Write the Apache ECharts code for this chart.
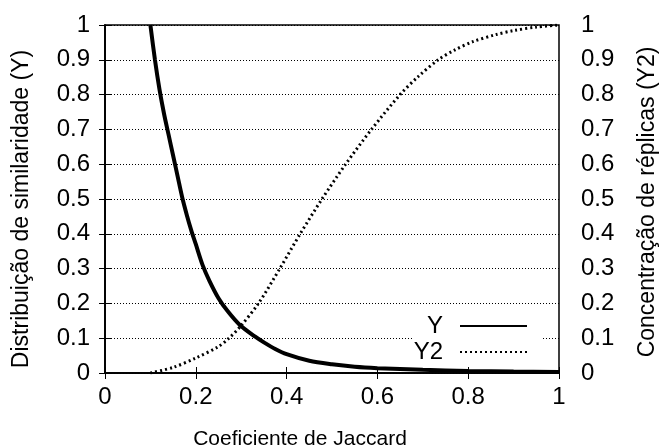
<!DOCTYPE html>
<html>
<head>
<meta charset="utf-8">
<script src="https://cdn.jsdelivr.net/npm/echarts@6/dist/echarts.min.js"></script>
<style>html,body{margin:0;padding:0;background:#fff}#c{width:662px;height:448px}</style>
</head>
<body>
<div id="c"></div>
<script>
const yX = [0.1, 0.11, 0.12, 0.13, 0.14, 0.15, 0.16, 0.17, 0.18, 0.19, 0.2, 0.215, 0.23, 0.25, 0.27, 0.297, 0.33, 0.35, 0.375, 0.4, 0.45, 0.5, 0.55, 0.6, 0.7, 0.8, 0.9, 1.0];
const yVals = [1.0, 0.9, 0.815, 0.745, 0.685, 0.625, 0.565, 0.505, 0.455, 0.41, 0.37, 0.31, 0.265, 0.215, 0.178, 0.138, 0.105, 0.088, 0.069, 0.054, 0.035, 0.025, 0.018, 0.014, 0.009, 0.006, 0.004, 0.003];
const y2X = [0.1, 0.15, 0.2, 0.25, 0.273, 0.297, 0.338, 0.385, 0.43, 0.478, 0.53, 0.587, 0.65, 0.69, 0.734, 0.77, 0.81, 0.86, 0.9, 0.95, 1.0];
const y2Vals = [0.0, 0.016, 0.043, 0.076, 0.1, 0.132, 0.2, 0.3, 0.4, 0.5, 0.6, 0.7, 0.8, 0.852, 0.9, 0.928, 0.952, 0.972, 0.984, 0.994, 1.0];
const seriesNames = ['Y', 'Y2'];
const xTitle = 'Coeficiente de Jaccard';
const yTitle = 'Distribuição de similaridade (Y)';
const y2Title = 'Concentração de réplicas (Y2)';

const FONT = "'Liberation Sans', Arial, Helvetica, sans-serif";
const pairs = (xs, ys) => xs.map((x, i) => [x, ys[i]]);

const chart = echarts.init(document.getElementById('c'), null, {renderer: 'canvas'});
const tickStyle = {color: '#000', fontSize: 24, fontFamily: FONT};
const fmt = v => String(+v.toFixed(1));
chart.setOption({
  animation: false,
  backgroundColor: '#fff',
  grid: {left: 105, right: 103, top: 25, bottom: 75, show: true, borderColor: '#000', borderWidth: 1.5, containLabel: false, outerBoundsMode: 'none'},
  xAxis: [{
    type: 'value', min: 0, max: 1, interval: 0.2, position: 'bottom',
    name: xTitle, nameLocation: 'middle', nameGap: 56,
    nameTextStyle: {color: '#000', fontSize: 21, fontFamily: FONT, padding: [0, 64, 0, 0]},
    axisLine: {show: true, lineStyle: {color: '#000', width: 1.5}},
    axisTick: {show: true, inside: true, length: 6, lineStyle: {color: '#000'}},
    axisLabel: Object.assign({margin: 12, formatter: fmt}, tickStyle),
    splitLine: {show: false}
  }, {
    type: 'value', min: 0, max: 1, interval: 0.2, position: 'top',
    axisLine: {show: true, lineStyle: {color: '#000', width: 1.5}},
    axisTick: {show: true, inside: true, length: 6, lineStyle: {color: '#000'}},
    axisLabel: {show: false}, splitLine: {show: false}
  }],
  yAxis: [{
    type: 'value', min: 0, max: 1, interval: 0.1, position: 'left',
    name: yTitle, nameLocation: 'middle', nameGap: 72, nameRotate: 90,
    nameTextStyle: {color: '#000', fontSize: 23, fontFamily: FONT, padding: [0, 20, 0, 0]},
    axisLine: {show: true, lineStyle: {color: '#000', width: 1.5}},
    axisTick: {show: true, inside: true, length: 6, lineStyle: {color: '#000'}},
    axisLabel: Object.assign({margin: 15, formatter: fmt}, tickStyle),
    splitLine: {show: true, lineStyle: {color: '#000', width: 1, type: [1, 2]}}
  }, {
    type: 'value', min: 0, max: 1, interval: 0.1, position: 'right',
    name: y2Title, nameLocation: 'middle', nameGap: 77, nameRotate: 90,
    nameTextStyle: {color: '#000', fontSize: 23, fontFamily: FONT, padding: [0, 6, 0, 0]},
    axisLine: {show: true, lineStyle: {color: '#000', width: 1.5}},
    axisTick: {show: true, inside: true, length: 6, lineStyle: {color: '#000'}},
    axisLabel: Object.assign({margin: 22, formatter: fmt}, tickStyle),
    splitLine: {show: false}
  }],
  legend: [{
    data: [seriesNames[0]], orient: 'vertical', align: 'right', right: 119, top: 312,
    itemWidth: 67, itemHeight: 14, padding: [2, 15, 2, 13], backgroundColor: '#fff',
    itemStyle: {color: 'rgba(0,0,0,0)', borderWidth: 0},
    textStyle: {color: '#000', fontSize: 24, fontFamily: FONT, lineHeight: 24, padding: [0, 12, 0, 0]},
    z: 10
  }, {
    data: [seriesNames[1]], orient: 'vertical', align: 'right', right: 119, top: 340,
    itemWidth: 67, itemHeight: 14, padding: [0, 15, 1, 1], backgroundColor: '#fff',
    itemStyle: {color: 'rgba(0,0,0,0)', borderWidth: 0},
    textStyle: {color: '#000', fontSize: 24, fontFamily: FONT, lineHeight: 24, padding: [0, 12, 0, 0]},
    z: 10
  }],
  series: [{
    name: seriesNames[0], type: 'line', xAxisIndex: 0, yAxisIndex: 0,
    data: pairs(yX, yVals), symbol: 'none', smooth: 0.3,
    lineStyle: {color: '#000', width: 4}, itemStyle: {color: '#000'}, z: 3
  }, {
    name: seriesNames[1], type: 'line', xAxisIndex: 0, yAxisIndex: 1,
    data: pairs(y2X, y2Vals), symbol: 'none', smooth: 0.3,
    lineStyle: {color: '#000', width: 3, type: [2, 3]}, itemStyle: {color: '#000'}, z: 3
  }]
});
</script>
</body>
</html>
